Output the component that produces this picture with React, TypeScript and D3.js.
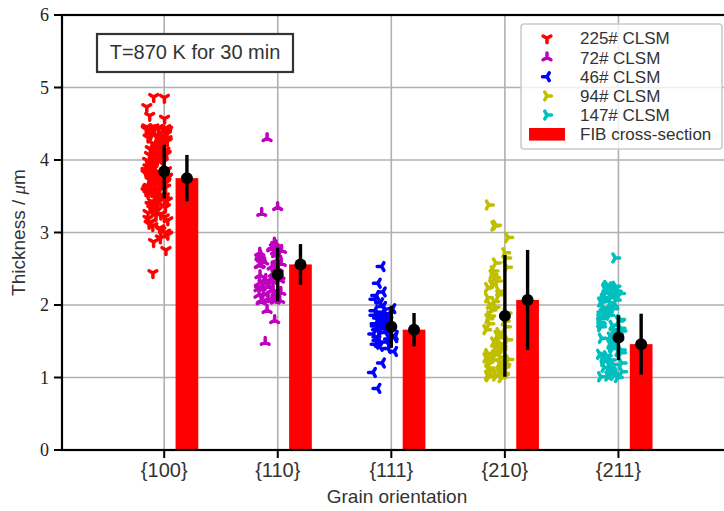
import React from "react";
import { scaleLinear } from "d3";

// grain orientations (x categories)
const orientations = ["{100}", "{110}", "{111}", "{210}", "{211}"];
const yTicks = [0, 1, 2, 3, 4, 5, 6];

// CLSM thickness readings per sample (µm)
const clsm225 = [
  4.87, 4.86, 4.73, 4.61, 4.57, 4.45, 4.45, 4.44, 4.44, 4.43, 4.43, 4.42, 4.42, 4.41, 4.41, 4.4,
  4.39, 4.38, 4.37, 4.36, 4.35, 4.34, 4.32, 4.31, 4.3, 4.29, 4.27, 4.26, 4.25, 4.24, 4.23, 4.22,
  4.2, 4.19, 4.18, 4.17, 4.16, 4.15, 4.14, 4.13, 4.12, 4.1, 4.09, 4.08, 4.07, 4.06, 4.05, 4.04,
  4.03, 4.02, 4.01, 4.0, 3.99, 3.98, 3.97, 3.96, 3.96, 3.95, 3.94, 3.93, 3.92, 3.91, 3.9, 3.89,
  3.88, 3.88, 3.87, 3.86, 3.85, 3.84, 3.83, 3.82, 3.81, 3.8, 3.8, 3.79, 3.78, 3.77, 3.76, 3.75,
  3.74, 3.73, 3.72, 3.71, 3.7, 3.69, 3.68, 3.67, 3.66, 3.65, 3.64, 3.63, 3.62, 3.61, 3.6, 3.59,
  3.58, 3.57, 3.56, 3.55, 3.54, 3.53, 3.51, 3.5, 3.49, 3.48, 3.46, 3.45, 3.44, 3.42, 3.41, 3.39,
  3.38, 3.36, 3.35, 3.33, 3.31, 3.29, 3.27, 3.25, 3.23, 3.21, 3.19, 3.17, 3.14, 3.12, 3.09, 3.06,
  3.03, 3.0, 2.97, 2.92, 2.87, 2.76, 2.44,
];
const clsm72 = [
  4.3, 3.35, 3.27, 2.86, 2.82, 2.8, 2.78, 2.76, 2.74, 2.72, 2.7, 2.68, 2.66, 2.64, 2.62, 2.6,
  2.58, 2.56, 2.55, 2.53, 2.51, 2.5, 2.48, 2.46, 2.45, 2.43, 2.41, 2.4, 2.38, 2.36, 2.35, 2.33,
  2.31, 2.3, 2.28, 2.26, 2.25, 2.23, 2.21, 2.2, 2.18, 2.16, 2.14, 2.12, 2.1, 2.09, 2.08, 2.08,
  2.07, 2.07, 2.06, 2.05, 1.93, 1.79, 1.49,
];
const clsm46 = [
  2.53, 2.3, 2.18, 2.13, 2.08, 2.03, 1.98, 1.95, 1.92, 1.9, 1.88, 1.86, 1.84, 1.83, 1.82, 1.8,
  1.79, 1.78, 1.77, 1.76, 1.75, 1.74, 1.72, 1.71, 1.7, 1.68, 1.67, 1.66, 1.64, 1.62, 1.6, 1.58,
  1.56, 1.55, 1.53, 1.51, 1.49, 1.46, 1.43, 1.4, 1.36, 1.2, 1.07, 0.85,
];
const clsm94 = [
  3.38, 3.1, 3.09, 2.93, 2.72, 2.65, 2.58, 2.52, 2.47, 2.42, 2.38, 2.33, 2.28, 2.24, 2.19, 2.14,
  2.1, 2.05, 2.01, 1.97, 1.93, 1.89, 1.85, 1.81, 1.78, 1.74, 1.7, 1.66, 1.62, 1.58, 1.55, 1.52,
  1.49, 1.47, 1.45, 1.43, 1.41, 1.39, 1.37, 1.35, 1.33, 1.31, 1.3, 1.28, 1.27, 1.25, 1.24, 1.22,
  1.21, 1.2, 1.19, 1.18, 1.16, 1.15, 1.14, 1.13, 1.12, 1.1, 1.09, 1.08, 1.07, 1.06, 1.05, 1.04,
  1.03, 1.02, 1.01, 1.0,
];
const clsm147 = [
  2.65, 2.27, 2.26, 2.25, 2.24, 2.23, 2.22, 2.2, 2.19, 2.18, 2.16, 2.15, 2.13, 2.12, 2.1, 2.09,
  2.07, 2.06, 2.04, 2.03, 2.01, 2.0, 1.98, 1.96, 1.95, 1.93, 1.91, 1.9, 1.88, 1.86, 1.85, 1.83,
  1.81, 1.8, 1.78, 1.76, 1.74, 1.72, 1.7, 1.68, 1.66, 1.64, 1.62, 1.6, 1.58, 1.56, 1.54, 1.52,
  1.5, 1.48, 1.46, 1.44, 1.42, 1.4, 1.38, 1.36, 1.34, 1.32, 1.3, 1.28, 1.26, 1.24, 1.22, 1.2,
  1.18, 1.16, 1.14, 1.12, 1.1, 1.08, 1.06, 1.04, 1.03, 1.02, 1.01, 1.0,
];

// summary values (mean +- std) shown by the black error bars
const clsmMean = [3.84, 2.42, 1.7, 1.85, 1.55];
const clsmStd = [0.37, 0.37, 0.29, 0.84, 0.31];
const fibMean = [3.75, 2.56, 1.66, 2.07, 1.46];
const fibStd = [0.32, 0.28, 0.23, 0.69, 0.42];

const samples = [
  { label: "225# CLSM", values: clsm225, color: "#ff0000", marker: "down" },
  { label: "72# CLSM", values: clsm72, color: "#bf00bf", marker: "up" },
  { label: "46# CLSM", values: clsm46, color: "#0000ff", marker: "left" },
  { label: "94# CLSM", values: clsm94, color: "#bfbf00", marker: "right" },
  { label: "147# CLSM", values: clsm147, color: "#00bfbf", marker: "right" },
];

const W = 724;
const H = 511;
const sans = "'Liberation Sans', Arial, sans-serif";
const serif = "'Liberation Serif', 'Times New Roman', serif";

// tri markers like matplotlib's '1' '2' '3' '4'
function triPath(kind: string, r: number) {
  const a = 0.866 * r;
  const h = 0.5 * r;
  let pts: number[][] = [];
  if (kind === "down") pts = [[0, r], [-a, -h], [a, -h]];
  if (kind === "up") pts = [[0, -r], [-a, h], [a, h]];
  if (kind === "left") pts = [[-r, 0], [h, -a], [h, a]];
  if (kind === "right") pts = [[r, 0], [-h, -a], [-h, a]];
  return pts.map((p) => `M0,0L${p[0]},${p[1]}`).join("");
}

// sideways spread for the strip plot: fixed integer hash of the point index
const jitter = (i: number, k: number) => {
  let h = Math.imul(i + 1 + k * 977, 2654435761) >>> 0;
  h = Math.imul(h ^ (h >>> 15), 2246822519) >>> 0;
  h = (h ^ (h >>> 13)) >>> 0;
  const u = h / 4294967296;
  return -0.165 + 0.2 * u;
};

const MR = 4.5; // marker arm length
const MW = 3.5; // marker stroke

export default function App() {
  const x = scaleLinear().domain([-0.9, 5.0]).range([62, 732]);
  const y = scaleLinear().domain([0, 6]).range([450, 15]);
  const barW = x(0.2) - x(0);

  return (
    <svg width={W} height={H} style={{ position: "absolute", left: 0, top: 0, background: "#fff" }}>
      {/* grid */}
      {yTicks.slice(1, 6).map((t) => (
        <line key={"gy" + t} x1={62} x2={W} y1={y(t)} y2={y(t)} stroke="#b0b0b0" strokeWidth={1.6} />
      ))}
      {orientations.map((o, i) => (
        <line key={"gx" + o} x1={x(i)} x2={x(i)} y1={15} y2={450} stroke="#b0b0b0" strokeWidth={1.6} />
      ))}

      {/* FIB bars */}
      {fibMean.map((v, i) => (
        <rect key={"bar" + i} x={x(i + 0.2) - barW / 2} y={y(v)} width={barW} height={y(0) - y(v)} fill="#ff0000" />
      ))}

      {/* CLSM points */}
      {samples.map((s, k) => {
        const d = triPath(s.marker, MR);
        return (
          <g key={s.label}>
            {s.values.map((v, i) => (
              <path
                key={i}
                d={d}
                transform={`translate(${x(k + jitter(i, k))},${y(v)})`}
                stroke={s.color}
                strokeWidth={MW}
                strokeLinecap="round"
                fill="none"
              />
            ))}
          </g>
        );
      })}

      {/* error bars */}
      {clsmMean.map((m, i) => (
        <g key={"eb" + i}>
          <line x1={x(i)} x2={x(i)} y1={y(m - clsmStd[i])} y2={y(m + clsmStd[i])} stroke="#000" strokeWidth={3.4} />
          <circle cx={x(i)} cy={y(m)} r={6} fill="#000" />
          <line
            x1={x(i + 0.2)}
            x2={x(i + 0.2)}
            y1={y(fibMean[i] - fibStd[i])}
            y2={y(fibMean[i] + fibStd[i])}
            stroke="#000"
            strokeWidth={3.4}
          />
          <circle cx={x(i + 0.2)} cy={y(fibMean[i])} r={6} fill="#000" />
        </g>
      ))}

      {/* spines */}
      <rect x={62} y={15} width={732 - 62} height={435} fill="none" stroke="#000" strokeWidth={2.2} />

      {/* y axis */}
      {yTicks.map((t) => (
        <g key={"yt" + t}>
          <line x1={54} x2={62} y1={y(t)} y2={y(t)} stroke="#000" strokeWidth={2} />
          <text x={49} y={y(t)} dy="0.34em" textAnchor="end" fontFamily={serif} fontSize={18} fill="#222">
            {t}
          </text>
        </g>
      ))}
      <text
        transform={`translate(25,${(15 + 450) / 2}) rotate(-90)`}
        textAnchor="middle"
        fontFamily={sans}
        fontSize={19}
        fill="#333"
      >
        Thickness /{" "}
        <tspan fontFamily={serif} fontStyle="italic">
          μ
        </tspan>
        m
      </text>

      {/* x axis */}
      {orientations.map((o, i) => (
        <g key={"xt" + o}>
          <line x1={x(i)} x2={x(i)} y1={450} y2={458} stroke="#000" strokeWidth={2} />
          <text x={x(i)} y={477} textAnchor="middle" fontFamily={sans} fontSize={20} fill="#333">
            {o}
          </text>
        </g>
      ))}
      <text x={(62 + 732) / 2} y={503} textAnchor="middle" fontFamily={sans} fontSize={19} fill="#333">
        Grain orientation
      </text>

      {/* annotation */}
      <rect x={97} y={34} width={196} height={38} fill="#fff" stroke="#333" strokeWidth={2.2} />
      <text x={195} y={59} textAnchor="middle" fontFamily={sans} fontSize={20} fill="#333">
        T=870 K for 30 min
      </text>

      {/* legend */}
      <rect x={521} y={24} width={201} height={125} rx={3} fill="#fff" fillOpacity={0.8} stroke="#cccccc" strokeWidth={1.6} />
      {samples.map((s, k) => {
        const ly = 38.3 + k * 19.2;
        return (
          <g key={"lg" + s.label}>
            <path
              d={triPath(s.marker, MR)}
              transform={`translate(547,${ly})`}
              stroke={s.color}
              strokeWidth={MW}
              strokeLinecap="round"
              fill="none"
            />
            <text x={580} y={ly + 6} fontFamily={sans} fontSize={17} fill="#333">
              {s.label}
            </text>
          </g>
        );
      })}
      <rect x={529} y={38.3 + 5 * 19.2 - 6.3} width={36} height={12.6} fill="#ff0000" />
      <text x={580} y={38.3 + 5 * 19.2 + 6} fontFamily={sans} fontSize={17} fill="#333">
        FIB cross-section
      </text>
    </svg>
  );
}
